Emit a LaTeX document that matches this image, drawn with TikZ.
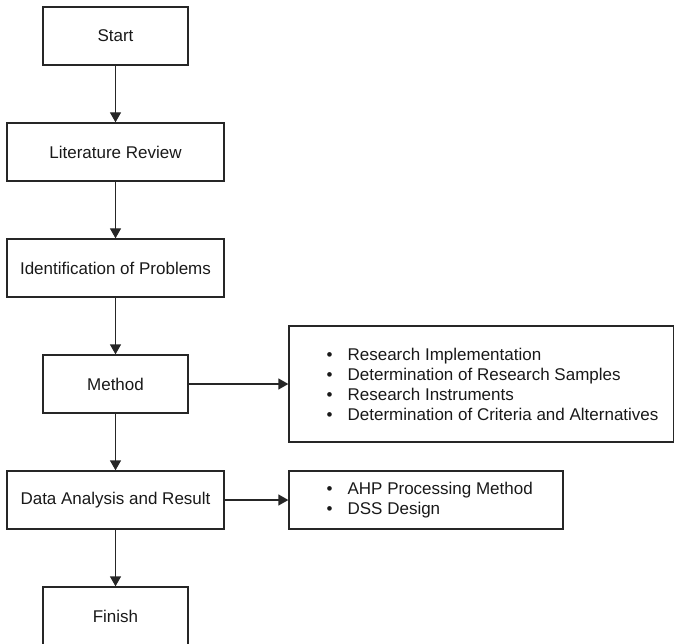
\documentclass[tikz,border=0pt]{standalone}
\usepackage{fontspec}
\setmainfont{Liberation Sans}
\usetikzlibrary{arrows.meta}

\begin{document}
\begin{tikzpicture}[
    x=1pt, y=-1pt,
    line width=1.3pt,
    color=black!85,
    every node/.style={text=black!90, font=\fontsize{17}{20}\selectfont},
    box/.style={draw, rectangle, minimum height=58pt, inner sep=0pt},
    shortbox/.style={box, minimum width=145pt},
    longbox/.style={box, minimum width=217pt},
    listtext/.style={anchor=west, align=left, inner sep=0pt},
    flow/.style={-{Triangle[width=11pt,length=10pt]}}
]
    \useasboundingbox (0,0) rectangle (674,644);

    % --- MAIN COLUMN ---
    \node[shortbox] (start)  at (115.5, 36)  {Start};
    \node[longbox]  (lit)    at (115.5, 152) {Literature Review};
    \node[longbox]  (ident)  at (115.5, 268) {Identification of Problems};
    \node[shortbox] (method) at (115.5, 384) {Method};
    \node[longbox]  (data)   at (115.5, 500) {Data Analysis and Result};
    \node[shortbox] (finish) at (115.5, 616) {Finish};

    % --- SIDE BOXES ---
    \node[box, minimum width=385pt, minimum height=116pt] (methodlist) at (481.5, 384) {};
    \node[listtext] (methodtext) at (326, 384) {%
        \textbullet\hspace{15pt}Research Implementation\\
        \textbullet\hspace{15pt}Determination of Research Samples\\
        \textbullet\hspace{15pt}Research Instruments\\
        \textbullet\hspace{15pt}Determination of Criteria and Alternatives};

    \node[box, minimum width=274pt] (datalist) at (426, 500) {};
    \node[listtext] (datatext) at (326, 500) {%
        \textbullet\hspace{15pt}AHP Processing Method\\
        \textbullet\hspace{15pt}DSS Design};

    % --- CONNECTORS ---
    \draw[flow] (start) -- (lit);
    \draw[flow] (lit) -- (ident);
    \draw[flow] (ident) -- (method);
    \draw[flow] (method) -- (data);
    \draw[flow] (data) -- (finish);
    \draw[flow] (method) -- (methodlist);
    \draw[flow] (data) -- (datalist);

\end{tikzpicture}
\end{document}
